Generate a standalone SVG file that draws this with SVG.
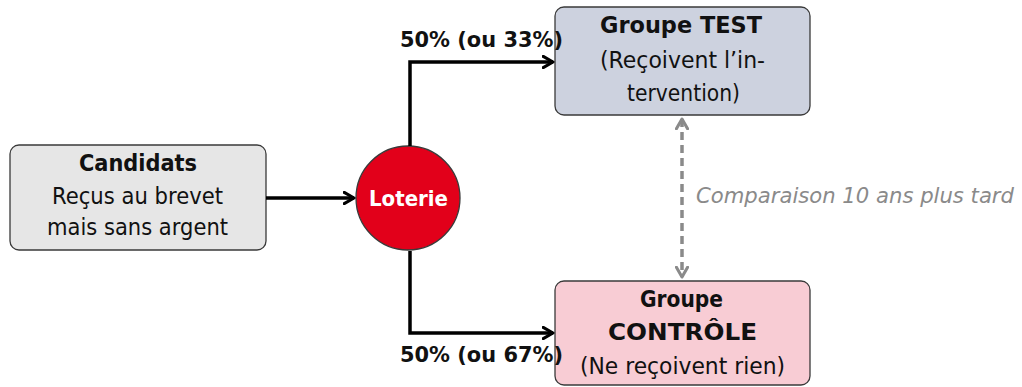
<svg xmlns="http://www.w3.org/2000/svg" width="1022" height="387" viewBox="0 0 1022 387">
<style>
text{font-family:"DejaVu Sans","Noto Sans",sans-serif;text-anchor:middle;fill:#111}
.b{font-weight:bold;font-size:22.5px}
.n{font-size:23px}
.lbl{font-size:22px;font-weight:bold}
.box{stroke:#3a3a3a;stroke-width:1.3}
.conn{fill:none;stroke:#000;stroke-width:3.5}
.dash{fill:none;stroke:#8a8a8a;stroke-width:3.5;stroke-dasharray:8 5}
</style>
<defs>
<marker id="ah" viewBox="0 0 10 10" refX="8" refY="5" markerWidth="4" markerHeight="4" orient="auto" markerUnits="strokeWidth">
<path d="M1,1 L8,5 L1,9" fill="none" stroke="#000" stroke-width="2.2" stroke-linecap="round" stroke-linejoin="round"/>
</marker>
<marker id="ag" viewBox="0 0 10 10" refX="8" refY="5" markerWidth="4" markerHeight="4" orient="auto-start-reverse" markerUnits="strokeWidth">
<path d="M1,1 L8,5 L1,9" fill="none" stroke="#8a8a8a" stroke-width="2.2" stroke-linecap="round" stroke-linejoin="round"/>
</marker>
</defs>
<g id="candidats">
<rect class="box" x="10" y="145" width="256" height="105" rx="9" fill="#e6e6e6"/>
<text class="b" x="138" y="171" textLength="118" lengthAdjust="spacingAndGlyphs">Candidats</text>
<text class="n" x="137.5" y="204" textLength="171" lengthAdjust="spacingAndGlyphs">Reçus au brevet</text>
<text class="n" x="137.5" y="235" textLength="181" lengthAdjust="spacingAndGlyphs">mais sans argent</text>
</g>
<g id="loterie">
<circle cx="408" cy="198" r="52" fill="#e2001a" stroke="#3a3a3a" stroke-width="1.3"/>
<text class="b" x="408.5" y="206" style="fill:#fff;font-size:21.5px" textLength="79" lengthAdjust="spacingAndGlyphs">Loterie</text>
</g>
<g id="test">
<rect class="box" x="555" y="7" width="255" height="108" rx="9" fill="#cdd2df"/>
<text class="b" x="681" y="33" textLength="162" lengthAdjust="spacingAndGlyphs">Groupe TEST</text>
<text class="n" x="682.5" y="68" textLength="165" lengthAdjust="spacingAndGlyphs">(Reçoivent l’in-</text>
<text class="n" x="683.5" y="101" textLength="113" lengthAdjust="spacingAndGlyphs">tervention)</text>
</g>
<g id="controle">
<rect class="box" x="555" y="281" width="255" height="104" rx="9" fill="#f8ccd4"/>
<text class="b" x="681.5" y="307" textLength="83" lengthAdjust="spacingAndGlyphs">Groupe</text>
<text class="b" x="682.5" y="340" style="font-size:23.5px" textLength="149" lengthAdjust="spacingAndGlyphs">CONTRÔLE</text>
<text class="n" x="682.5" y="374" textLength="205" lengthAdjust="spacingAndGlyphs">(Ne reçoivent rien)</text>
</g>
<g id="connectors">
<path class="conn" d="M266,198 L354,198" marker-end="url(#ah)"/>
<path class="conn" d="M410,146 L410,62 L553,62" marker-end="url(#ah)"/>
<path class="conn" d="M410,251 L410,333 L553,333" marker-end="url(#ah)"/>
<path class="dash" d="M682,119 L682,277" marker-start="url(#ag)" marker-end="url(#ag)"/>
<text class="lbl" x="481.5" y="47" textLength="163" lengthAdjust="spacingAndGlyphs">50% (ou 33%)</text>
<text class="lbl" x="481.5" y="362" textLength="163" lengthAdjust="spacingAndGlyphs">50% (ou 67%)</text>
<text x="855" y="203" style="font-size:20.5px;font-style:italic;fill:#8a8a8a" textLength="318" lengthAdjust="spacingAndGlyphs">Comparaison 10 ans plus tard</text>
</g>
</svg>
